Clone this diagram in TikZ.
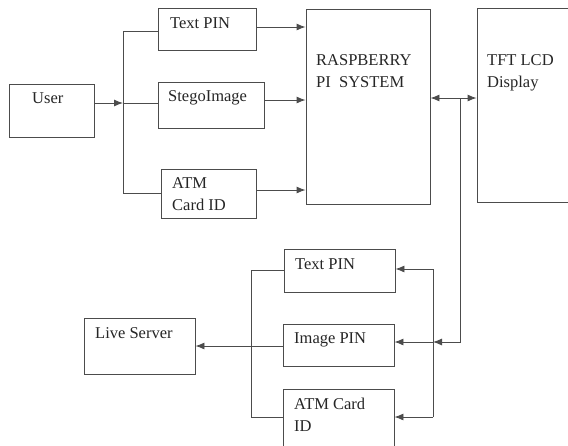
\documentclass[tikz,border=0pt]{standalone}
\usepackage{fontspec}
\setmainfont{Liberation Serif}
\usetikzlibrary{arrows.meta}
\tikzset{
  blk/.style={draw=black!70, line width=0.9pt, inner sep=0pt},
  txt/.style={anchor=base west, inner sep=0pt, align=left, text=black!85,
    font=\fontsize{16.5}{22}\selectfont},
  wire/.style={draw=black!70, line width=0.9pt},
  arr/.style={wire, -{Latex[length=9pt,width=7pt]}},
  biarr/.style={wire, {Latex[length=9pt,width=7pt]}-{Latex[length=9pt,width=7pt]}}
}
\begin{document}
\begin{tikzpicture}[x=1pt,y=-1pt]
\clip (0,0) rectangle (568,445);
\fill[white] (0,0) rectangle (568,445);
% blocks, top half
\node[blk, minimum width=85, minimum height=53] (user) at (51.5,110.5) {};
\node[blk, minimum width=98, minimum height=42] (pinA) at (207,29) {};
\node[blk, minimum width=106, minimum height=46] (stego) at (211,105) {};
\node[blk, minimum width=95, minimum height=49] (cardA) at (208.5,193.5) {};
\node[blk, minimum width=124, minimum height=195] (rpi) at (368,106.5) {};
\node[blk, minimum width=123, minimum height=194] (tft) at (538.5,105) {};
% blocks, bottom half
\node[blk, minimum width=111, minimum height=43] (pinB) at (339.5,270.5) {};
\node[blk, minimum width=111, minimum height=42] (imgpin) at (338.5,345) {};
\node[blk, minimum width=111, minimum height=71] (cardB) at (338.5,424.5) {};
\node[blk, minimum width=111, minimum height=56] (server) at (139.5,346) {};
% labels (base = last line)
\node[txt] (userT) at (32,103) {User};
\node[txt] (pinAT) at (170,28) {Text PIN};
\node[txt] (stegoT) at (168,101) {StegoImage};
\node[txt] (cardAT) at (172,210) {ATM\\Card ID};
\node[txt] (rpiT) at (316,87) {RASPBERRY\\PI\ \ SYSTEM};
\node[txt] (tftT) at (487,87) {TFT LCD\\Display};
\node[txt] (pinBT) at (295,269) {Text PIN};
\node[txt] (imgpinT) at (294,343) {Image PIN};
\node[txt] (cardBT) at (294,431) {ATM Card\\ID};
\node[txt] (serverT) at (95,338) {Live Server};
% junction points
\coordinate (jUser) at (123,103);
\coordinate (jTop) at (123,31);
\coordinate (jBot) at (123,193);
\coordinate (bus) at (460,98);
\coordinate (jMid) at (433,342);
\coordinate (rTop) at (433,269);
\coordinate (rBot) at (433,417);
\coordinate (lTop) at (251,270);
\coordinate (lBot) at (251,417);
% user to inputs
\draw[arr] (user.east |- jUser) -- (jUser);
\draw[wire] (pinA.west |- jTop) -- (jTop) -- (jBot) -- (cardA.west |- jBot);
\draw[wire] (jUser) -- (stego.west |- jUser);
% inputs to raspberry pi
\draw[arr] (pinA.east |- 0,27) -- (rpi.west |- 0,27);
\draw[arr] (stego.east |- 0,100) -- (rpi.west |- 0,100);
\draw[arr] (cardA.east |- 0,190) -- (rpi.west |- 0,190);
% pi to display and down
\draw[biarr] (rpi.east |- bus) -- (tft.west |- bus);
\draw[arr] (bus) |- (jMid);
\draw[wire] (rTop) -- (rBot);
\draw[arr] (rTop) -- (pinB.east |- rTop);
\draw[arr] (jMid) -- (imgpin.east |- jMid);
\draw[arr] (rBot) -- (cardB.east |- rBot);
% to live server
\draw[wire] (pinB.west |- lTop) -- (lTop) -- (lBot) -- (cardB.west |- lBot);
\draw[arr] (imgpin.west |- 0,346) -- (server.east |- 0,346);
\end{tikzpicture}
\end{document}
